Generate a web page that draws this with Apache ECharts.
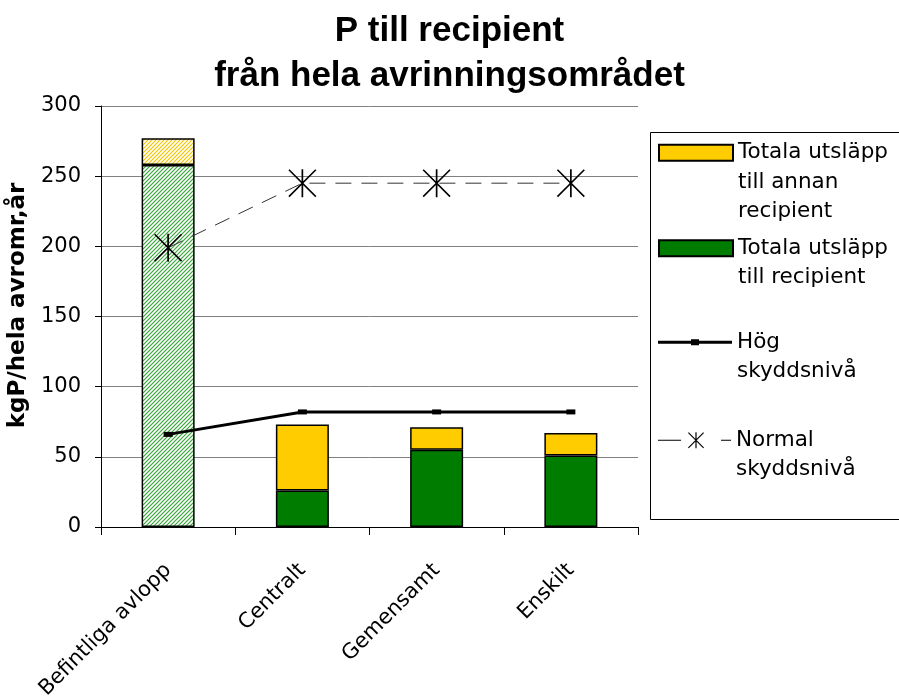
<!DOCTYPE html>
<html lang="sv">
<head>
<meta charset="UTF-8">
<title>P till recipient</title>
<script src="https://cdn.jsdelivr.net/npm/echarts@6/dist/echarts.min.js"></script>
</head>
<body style="margin:0;background:#fff">
<div id="main" style="width:899px;height:696px;"></div>
<script type="text/javascript">
// data
var categories = ['Befintliga avlopp', 'Centralt', 'Gemensamt', 'Enskilt'];
var annanRecipient = [19, 47, 16, 16];
var tillRecipient = [258, 26, 55, 51];
var hogNiva = [66, 82, 82, 82];
var normalNiva = [199, 245, 245, 245];

var arial = 'Liberation Sans, Arial, sans-serif';
var wide = 'DejaVu Sans, Verdana, sans-serif';

// hatch pattern for the first bar
function hatch(lineColor) {
    var c = document.createElement('canvas');
    c.width = 4; c.height = 4;
    var ctx = c.getContext('2d');
    ctx.fillStyle = '#fff';
    ctx.fillRect(0, 0, 4, 4);
    ctx.strokeStyle = lineColor;
    ctx.lineWidth = 1.2;
    ctx.beginPath();
    ctx.moveTo(-1, 5); ctx.lineTo(5, -1);
    ctx.moveTo(-1, 1); ctx.lineTo(1, -1);
    ctx.moveTo(3, 5); ctx.lineTo(5, 3);
    ctx.stroke();
    return { image: c, repeat: 'repeat' };
}

var green = '#007c00', yellow = '#ffcc00';
var star = 'path://M47 0L53 0L53 100L47 100Z M0 4L4 0L100 96L96 100Z M96 0L100 4L4 100L0 96Z';
var hogIcon = 'path://M0 1.5L74 1.5L74 4.5L0 4.5Z M33 0L41 0L41 6L33 6Z';
var normIcon = 'path://M0 7.4L23 7.4L23 8.6L0 8.6Z M37.4 0L38.6 0L38.6 16L37.4 16Z ' +
    'M30 0.8L30.8 0L46 15.2L45.2 16Z M45.2 0L46 0.8L30.8 16L30 15.2Z M63 7.4L73 7.4L73 8.6L63 8.6Z';

var greenData = tillRecipient.map(function (v, i) {
    return i === 0 ? { value: v, itemStyle: { color: hatch('#3aa53a') } } : v;
});
var yellowData = annanRecipient.map(function (v, i) {
    return i === 0 ? { value: v, itemStyle: { color: hatch('#f5c400') } } : v;
});

var LH = 29.5;
// legend: blank lines in front so the icon sits on the first text line
function leg(name, top, icon, w, h) {
    var n = name.split('\n').length;
    var pad = new Array(n).join('\n');
    return {
        data: [{ name: name, icon: icon }], left: 658, top: top, padding: 0,
        itemWidth: w, itemHeight: h, selectedMode: false,
        formatter: function (s) { return pad + s; },
        textStyle: { fontFamily: wide, fontSize: 21.5, color: '#000', lineHeight: LH }
    };
}

var myChart = echarts.init(document.getElementById('main'));
var option = {
    animation: false,
    backgroundColor: '#fff',
    title: {
        text: 'P till recipient\nfrån hela avrinningsområdet',
        left: 'center', top: 4,
        textStyle: { fontFamily: arial, fontSize: 35, fontWeight: 'bold', color: '#000', lineHeight: 45 }
    },
    legend: [
        leg('Totala utsläpp\ntill annan\nrecipient', 79, 'rect', 74, 16),
        leg('Totala utsläpp\ntill recipient', 204, 'rect', 74, 16),
        leg('Hög\nskyddsnivå', 298, hogIcon, 74, 6),
        leg('Normal\nskyddsnivå', 396, normIcon, 73, 16)
    ],
    graphic: [{
        type: 'rect', left: 648, top: 130,
        shape: { width: 250, height: 387 },
        style: { fill: 'none', stroke: '#000', lineWidth: 1 }
    }],
    grid: { left: 101, right: 261, top: 106, bottom: 169, outerBoundsMode: 'none', containLabel: false },
    xAxis: {
        type: 'category', data: categories,
        axisLine: { lineStyle: { color: '#000', width: 1 } },
        axisTick: { show: true, length: 8, interval: 0, lineStyle: { color: '#000' } },
        axisLabel: { interval: 0, rotate: 45, margin: 40, fontFamily: wide, fontSize: 21, color: '#000' }
    },
    yAxis: {
        type: 'value', min: 0, max: 300, interval: 50,
        name: 'kgP/hela avromr,år', nameLocation: 'middle', nameRotate: 90, nameGap: 67,
        nameTextStyle: { fontFamily: wide, fontSize: 23, fontWeight: 'bold', color: '#000', padding: [0, 0, 0, 22] },
        axisLine: { show: true, lineStyle: { color: '#000', width: 1 } },
        axisTick: { show: true, length: 6, lineStyle: { color: '#000' } },
        axisLabel: { margin: 20, fontFamily: wide, fontSize: 21, color: '#000' },
        splitLine: { lineStyle: { color: '#808080', width: 1 } }
    },
    series: [
        {
            name: 'Totala utsläpp\ntill recipient', type: 'bar', stack: 'p', barWidth: 53,
            itemStyle: { color: green, borderColor: '#000', borderWidth: 1.5 },
            data: greenData
        },
        {
            name: 'Totala utsläpp\ntill annan\nrecipient', type: 'bar', stack: 'p', barWidth: 53,
            itemStyle: { color: yellow, borderColor: '#000', borderWidth: 1.5 },
            data: yellowData
        },
        {
            name: 'Hög\nskyddsnivå', type: 'line', z: 5,
            symbol: 'rect', symbolSize: [9, 5],
            itemStyle: { color: '#000' },
            lineStyle: { color: '#000', width: 3 },
            data: hogNiva
        },
        {
            name: 'Normal\nskyddsnivå', type: 'line', z: 5,
            symbol: star, symbolSize: 28,
            itemStyle: { color: '#000' },
            lineStyle: { color: '#333', width: 1, type: [16, 10] },
            data: normalNiva
        }
    ]
};
myChart.setOption(option);
</script>
</body>
</html>
